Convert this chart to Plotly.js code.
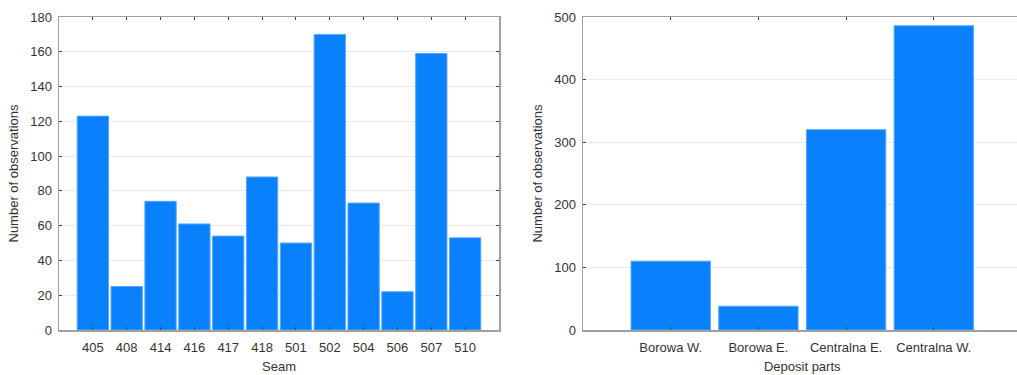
<!DOCTYPE html>
<html>
<head>
<meta charset="utf-8">
<script src="https://cdn.plot.ly/plotly-3.0.1.min.js"></script>
<style>
  html, body { margin: 0; padding: 0; overflow: hidden; background: #fff; }
  #chart { width: 1030px; height: 375px; }
</style>
</head>
<body>
<div id="chart"></div>
<script>
// Observation counts per seam
const seams = ["405", "408", "414", "416", "417", "418", "501", "502", "504", "506", "507", "510"];
const seamCounts = [123, 25, 74, 61, 54, 88, 50, 170, 73, 22, 159, 53];

// Observation counts per deposit part
const parts = ["Borowa W.", "Borowa E.", "Centralna E.", "Centralna W."];
const partCounts = [110, 38, 320, 486];

const W = 1030;
const barColor = "#0980fc";
const barEdge = "#5aa8fb";
const axisColor = "#a0a0a0";
const gridColor = "#ebebeb";
const fontFamily = "Liberation Sans, Arial, sans-serif";
const fontSize = 13;

const traces = [
  {
    type: "bar", x: seams.map((s, i) => i), y: seamCounts, width: 0.925,
    xaxis: "x", yaxis: "y",
    marker: { color: barColor, line: { color: barEdge, width: 1 } },
    hoverinfo: "skip"
  },
  {
    type: "bar", x: parts.map((p, i) => i), y: partCounts, width: 0.905,
    xaxis: "x2", yaxis: "y2",
    marker: { color: barColor, line: { color: barEdge, width: 1 } },
    hoverinfo: "skip"
  }
];

function xAxis(anchor, domain, labels, range, title) {
  return {
    anchor: anchor,
    domain: domain,
    range: range,
    tickmode: "array",
    tickvals: labels.map((l, i) => i),
    ticktext: labels,
    ticks: "inside", ticklen: 3, tickwidth: 1, tickcolor: "#444",
    ticklabelstandoff: 5,
    showline: true, linecolor: axisColor, linewidth: 1.5, mirror: "ticks",
    showgrid: false, zeroline: false,
    tickfont: { family: fontFamily, size: fontSize, color: "#333" },
    title: { text: title, font: { family: fontFamily, size: fontSize, color: "#333" }, standoff: 8 },
    fixedrange: true
  };
}

function yAxis(anchor, range, dtick) {
  return {
    anchor: anchor,
    domain: [0, 1],
    range: range,
    dtick: dtick,
    ticks: "inside", ticklen: 3, tickwidth: 1, tickcolor: "#444",
    ticklabelstandoff: 3,
    showline: true, linecolor: axisColor, linewidth: 1.5, mirror: "ticks",
    showgrid: true, gridcolor: gridColor, gridwidth: 1, zeroline: false,
    tickfont: { family: fontFamily, size: fontSize, color: "#333" },
    title: { text: "Number of observations", font: { family: fontFamily, size: fontSize, color: "#333" }, standoff: 8 },
    fixedrange: true
  };
}

const layout = {
  width: W, height: 375,
  margin: { l: 0, r: 0, t: 17, b: 45 },
  paper_bgcolor: "#fff", plot_bgcolor: "#fff",
  showlegend: false,
  xaxis: xAxis("y", [59 / W, 499 / W], seams, [-1, 12], "Seam"),
  yaxis: yAxis("x", [0, 180], 20),
  xaxis2: xAxis("y2", [583 / W, 1021.5 / W], parts, [-1, 4], "Deposit parts"),
  yaxis2: yAxis("x2", [0, 500], 100)
};

Plotly.newPlot("chart", traces, layout, { displayModeBar: false, staticPlot: true });
</script>
</body>
</html>
